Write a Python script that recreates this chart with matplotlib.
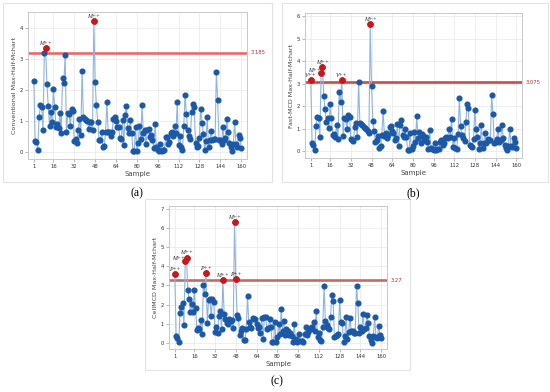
import numpy as np
import matplotlib
matplotlib.use("Agg")
from matplotlib import pyplot as plt
from matplotlib.patches import Rectangle
import matplotlib.transforms as mtransforms

# Sample index 1..160
samples = list(range(1, 161))
x_ticks = [1, 16, 32, 48, 64, 80, 96, 112, 128, 144, 160]

conv_values = [
    2.28, 0.36, 0.33, 0.07, 1.12, 1.50, 1.45, 0.72, 3.19, 3.33,
    2.19, 1.49, 0.84, 1.30, 0.96, 2.03, 1.46, 0.80, 0.91, 0.78,
    1.26, 0.63, 2.38, 2.21, 3.11, 0.65, 1.25, 1.22, 0.85, 1.39,
    1.33, 0.35, 0.42, 0.28, 0.72, 1.08, 0.55, 2.62, 1.13, 1.07,
    1.02, 0.99, 0.75, 0.98, 0.97, 0.70, 4.22, 2.25, 1.50, 0.98,
    0.40, 0.40, 0.65, 0.15, 0.20, 0.65, 1.60, 0.65, 0.65, 0.52,
    0.65, 1.08, 1.12, 1.00, 0.82, 0.80, 0.45, 0.42, 1.02, 0.22,
    1.20, 1.47, 0.78, 0.60, 1.02, 0.62, 0.05, 0.05, 0.82, 0.05,
    0.30, 0.85, 0.42, 1.50, 0.60, 0.70, 0.25, 0.72, 0.75, 0.50,
    0.55, 0.38, 0.12, 0.90, 0.15, 0.08, 0.05, 0.25, 0.05, 0.08,
    0.08, 0.48, 0.48, 0.25, 0.32, 0.60, 0.65, 0.52, 0.85, 0.62,
    1.60, 0.22, 0.52, 0.18, 0.08, 0.85, 1.85, 1.22, 0.72, 0.52,
    0.42, 1.28, 1.55, 1.45, 0.30, 0.15, 0.20, 0.45, 1.40, 0.95,
    0.58, 0.08, 0.35, 1.12, 0.15, 0.38, 0.68, 0.38, 0.42, 0.42,
    2.57, 1.67, 0.40, 0.38, 0.25, 0.80, 0.38, 0.45, 1.05, 0.65,
    0.30, 0.15, 0.05, 0.25, 0.98, 0.25, 0.15, 0.55, 0.45, 0.12,
]

fast_values = [
    3.15, 0.35, 0.30, 0.07, 1.13, 1.52, 1.50, 0.65, 3.48, 3.76,
    2.45, 1.87, 1.30, 1.48, 1.05, 2.10, 1.48, 0.72, 0.78, 0.65,
    1.15, 0.55, 2.65, 2.20, 3.15, 0.70, 1.50, 1.45, 1.00, 1.60,
    1.52, 0.55, 0.50, 0.45, 1.10, 1.25, 0.65, 3.07, 1.25, 1.20,
    1.15, 1.10, 1.02, 0.98, 0.92, 0.80, 5.65, 2.90, 1.35, 0.92,
    0.42, 0.48, 0.68, 0.15, 0.22, 0.72, 1.78, 0.70, 0.80, 0.60,
    0.72, 1.08, 1.12, 0.92, 0.80, 0.50, 0.60, 1.20, 0.25, 1.18,
    1.38, 0.72, 0.65, 0.98, 0.65, 0.05, 0.05, 0.80, 0.08, 0.25,
    0.85, 0.40, 1.55, 0.60, 0.85, 0.35, 0.78, 0.70, 0.50, 0.62,
    0.40, 0.12, 0.95, 0.15, 0.08, 0.05, 0.38, 0.05, 0.08, 0.08,
    0.42, 0.48, 0.30, 0.35, 0.60, 0.65, 0.60, 1.00, 0.62, 1.45,
    0.20, 0.58, 0.15, 0.08, 0.75, 2.35, 1.12, 0.72, 0.60, 0.45,
    1.30, 2.08, 1.92, 0.30, 0.25, 0.20, 0.55, 1.85, 0.98, 0.62,
    0.08, 0.35, 1.15, 0.15, 0.38, 0.80, 0.38, 0.55, 0.52, 0.50,
    2.50, 1.67, 0.35, 0.42, 0.55, 1.00, 0.42, 0.48, 1.18, 0.60,
    0.28, 0.15, 0.05, 0.25, 1.00, 0.25, 0.20, 0.60, 0.42, 0.15,
]

cell_values = [
    3.60, 0.35, 0.25, 0.05, 1.55, 1.90, 2.08, 0.95, 4.25, 4.45,
    2.78, 2.28, 1.60, 2.02, 1.62, 2.75, 1.82, 0.70, 0.80, 0.72,
    1.20, 0.50, 3.05, 2.55, 3.65, 1.05, 2.25, 2.28, 1.42, 2.32,
    2.12, 0.60, 0.85, 0.55, 1.40, 1.65, 0.72, 3.27, 1.50, 1.25,
    1.05, 1.00, 1.25, 1.15, 1.20, 0.78, 6.30, 3.32, 1.45, 1.30,
    0.42, 0.65, 0.78, 0.18, 0.18, 0.75, 2.45, 1.10, 0.85, 0.78,
    1.30, 1.28, 1.25, 1.00, 0.78, 0.82, 0.55, 1.32, 0.22, 1.35,
    1.38, 0.72, 0.80, 1.25, 0.82, 0.08, 0.05, 1.08, 0.08, 0.30,
    1.00, 0.50, 1.78, 0.65, 1.18, 0.45, 0.72, 0.65, 0.45, 0.55,
    0.40, 0.08, 1.00, 0.20, 0.05, 0.10, 0.48, 0.10, 0.12, 0.08,
    0.50, 0.85, 0.45, 0.60, 0.80, 0.75, 0.85, 1.12, 0.65, 1.68,
    0.30, 0.55, 0.18, 0.10, 0.82, 2.98, 1.18, 0.95, 0.80, 0.75,
    1.38, 2.52, 2.18, 0.30, 0.40, 0.45, 0.50, 2.25, 1.12, 1.05,
    0.08, 0.35, 1.35, 0.20, 0.60, 1.32, 0.62, 0.62, 0.55, 0.55,
    2.98, 2.10, 0.55, 0.82, 0.62, 1.52, 0.72, 0.80, 1.48, 1.05,
    0.35, 0.15, 0.02, 0.40, 1.35, 0.32, 0.28, 0.88, 0.45, 0.25,
]

conv_limit = 3.185
fast_limit = 3.075
cell_limit = 3.27

# flagged samples and their labels
conv_flags = [(10, "M++"), (47, "M++")]
fast_flags = [(1, "V++"), (9, "M++"), (10, "M++"), (25, "V++"), (47, "M++")]
cell_flags = [(1, "P++"), (9, "M++"), (10, "M++"), (25, "P++"), (38, "M++"),
              (47, "M++"), (48, "P++")]

W, H = 550, 392
fig = plt.figure(figsize=(W / 100, H / 100), dpi=100)
fig.patch.set_facecolor("white")


def px_rect(x0, y0, x1, y1):
    return [x0 / W, 1 - y1 / H, (x1 - x0) / W, (y1 - y0) / H]


# Panel frames
for x0, y0, x1, y1 in [(3, 3, 272, 182), (282, 3, 548, 182), (145, 199, 410, 370)]:
    fig.patches.append(Rectangle((x0 / W, 1 - y1 / H), (x1 - x0) / W, (y1 - y0) / H,
                                 transform=fig.transFigure, fill=False,
                                 edgecolor="#e2e2e2", linewidth=0.8))


def draw_chart(rect, values, limit, flags, ylabel, ylim, yticks, line_color):
    ax = fig.add_axes(rect)
    ax.plot(samples, values, color="#8fb4df", linewidth=0.8, zorder=2)
    ax.plot(samples, values, linestyle="none", marker="o", markersize=3.4,
            color="#1b58a6", zorder=3)
    ax.axhline(limit, color=line_color, linewidth=1.9, zorder=1.5)
    for s, lab in flags:
        v = values[s - 1]
        ax.plot([s], [v], linestyle="none", marker="o", markersize=3.8,
                color="#d01515", zorder=4)
        if lab == "M++" and any(f[0] == s + 1 for f in flags) and s != 47:
            ax.text(s - 0.5, v, lab, fontsize=4.2, fontfamily="Liberation Serif",
                    style="italic", ha="right", va="bottom", color="#222222")
        else:
            ax.text(s, v + (ylim[1] - ylim[0]) * 0.015, lab, fontsize=4.2,
                    fontfamily="Liberation Serif", style="italic",
                    ha="center", va="bottom", color="#222222")
    trans = mtransforms.blended_transform_factory(ax.transAxes, ax.transData)
    ax.text(1.015, limit, ("%g" % limit), transform=trans, fontsize=3.8,
            color="#b03030", va="center", ha="left")
    ax.set_xlim(-3.5, 164.5)
    ax.set_ylim(*ylim)
    ax.set_xticks(x_ticks)
    ax.set_yticks(yticks)
    ax.tick_params(labelsize=3.8, length=2, width=0.5, color="#999999",
                   labelcolor="#333333", pad=1.5)
    ax.grid(color="#e8e8e8", linewidth=0.5)
    ax.set_axisbelow(True)
    for s in ax.spines.values():
        s.set_color("#c8c8c8")
        s.set_linewidth(0.7)
    ax.set_xlabel("Sample", fontsize=5, color="#444444", labelpad=1.5)
    ax.set_ylabel(ylabel, fontsize=4.6, color="#444444", labelpad=2)
    return ax


draw_chart(px_rect(28, 12, 247, 159), conv_values, conv_limit, conv_flags,
           "Conventional Max-Half-Mchart", (-0.22, 4.5), [0, 1, 2, 3, 4], "#e86a6a")
draw_chart(px_rect(305, 13, 522, 158), fast_values, fast_limit, fast_flags,
           "Fast-MCD Max-Half-Mchart", (-0.3, 6.15), [0, 1, 2, 3, 4, 5, 6], "#c0504d")
draw_chart(px_rect(169, 206, 387, 349), cell_values, cell_limit, cell_flags,
           "CellMCD Max-Half-Mchart", (-0.3, 7.13), [0, 1, 2, 3, 4, 5, 6, 7], "#c46a66")

# panel labels
for x, y, lab in [(137, 193, "(a)"), (413, 193, "(b)"), (277, 381, "(c)")]:
    fig.text(x / W, 1 - y / H, lab, fontsize=8.5, fontfamily="Liberation Serif",
             ha="center", va="center", color="black")

fig.savefig("out.png", dpi=100)
